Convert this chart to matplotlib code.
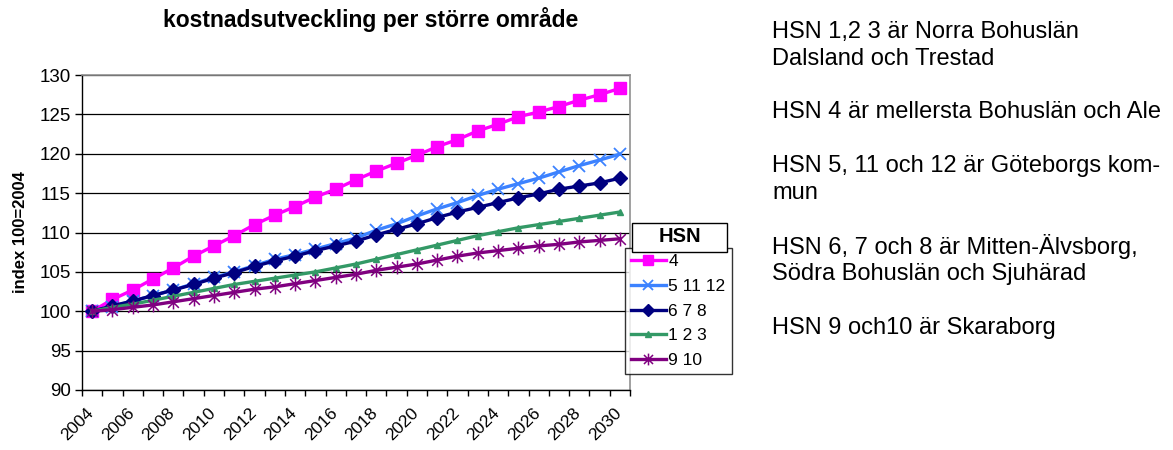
#!/usr/bin/env python3
import matplotlib
matplotlib.use("Agg")
import matplotlib.pyplot as plt
import numpy as np
from matplotlib.path import Path
from matplotlib.patches import Rectangle
from matplotlib.transforms import ScaledTranslation

plt.rcParams['font.family'] = ['Liberation Sans', 'DejaVu Sans']

# Data (index, 2004 = 100)
years = [2004, 2005, 2006, 2007, 2008, 2009, 2010, 2011, 2012, 2013, 2014,
         2015, 2016, 2017, 2018, 2019, 2020, 2021, 2022, 2023, 2024, 2025,
         2026, 2027, 2028, 2029, 2030]
hsn_4 = [100, 101.5, 102.7, 104.1, 105.5, 107.0, 108.3, 109.6, 111.0, 112.2,
         113.3, 114.5, 115.5, 116.7, 117.8, 118.8, 119.8, 120.9, 121.8, 122.9,
         123.75, 124.7, 125.3, 126.0, 126.8, 127.5, 128.3]
hsn_5_11_12 = [100, 100.6, 101.3, 102.0, 102.7, 103.5, 104.3, 105.0, 105.8,
               106.6, 107.2, 107.9, 108.6, 109.3, 110.3, 111.1, 112.1, 113.0,
               113.8, 114.7, 115.5, 116.2, 116.9, 117.7, 118.5, 119.2, 119.95]
hsn_6_7_8 = [100, 100.7, 101.3, 102.0, 102.7, 103.4, 104.2, 104.9, 105.7,
             106.4, 107.0, 107.7, 108.3, 108.9, 109.7, 110.4, 111.1, 111.9,
             112.6, 113.2, 113.8, 114.4, 114.9, 115.5, 115.9, 116.3, 116.9]
hsn_1_2_3 = [100, 100.5, 100.9, 101.4, 101.9, 102.4, 102.9, 103.4, 103.8,
             104.2, 104.6, 105.0, 105.5, 106.0, 106.6, 107.2, 107.8, 108.4,
             109.0, 109.6, 110.1, 110.6, 111.0, 111.4, 111.8, 112.2, 112.6]
hsn_9_10 = [100, 100.2, 100.5, 100.8, 101.2, 101.6, 102.0, 102.4, 102.8,
            103.1, 103.5, 103.9, 104.3, 104.7, 105.2, 105.6, 106.0, 106.5,
            107.0, 107.4, 107.7, 108.0, 108.3, 108.5, 108.8, 109.0, 109.2]
series_labels = ["4", "5 11 12", "6 7 8", "1 2 3", "9 10"]

notes = ["HSN 1,2 3 är Norra Bohuslän",
         "Dalsland och Trestad",
         "",
         "HSN 4 är mellersta Bohuslän och Ale",
         "",
         "HSN 5, 11 och 12 är Göteborgs kom-",
         "mun",
         "",
         "HSN 6, 7 och 8 är Mitten-Älvsborg,",
         "Södra Bohuslän och Sjuhärad",
         "",
         "HSN 9 och10 är Skaraborg"]

# Excel style "star" marker: x with a vertical bar
star = Path([(-1, -1), (1, 1), (-1, 1), (1, -1), (0, -1.3), (0, 1.3)],
            [Path.MOVETO, Path.LINETO, Path.MOVETO, Path.LINETO,
             Path.MOVETO, Path.LINETO])

W, H = 1173, 450
fig = plt.figure(figsize=(W / 100, H / 100), dpi=100)
ax = fig.add_axes([82 / W, 1 - 390 / H, (630 - 82) / W, (390 - 75) / H])

x = np.arange(len(years))
styles = [
    (hsn_4, "#FF00FF", "s", 8, 1),
    (hsn_5_11_12, "#3C82FF", "x", 9, 1.3),
    (hsn_6_7_8, "#000080", "D", 7, 1),
    (hsn_1_2_3, "#339966", "^", 5, 1),
    (hsn_9_10, "#800080", star, 10, 1.1),
]
for (vals, col, mk, ms, mew), lab in zip(styles, series_labels):
    ax.plot(x, vals, color=col, marker=mk, markersize=ms, markeredgewidth=mew,
            markerfacecolor=col, markeredgecolor=col, linewidth=2.4,
            label=lab, clip_on=False, zorder=3)

ax.set_xlim(-0.5, len(years) - 0.5)
ax.set_ylim(90, 130)
ax.set_yticks(np.arange(90, 131, 5))
ax.yaxis.grid(True, color="black", linewidth=0.9)
ax.set_axisbelow(True)

# tick marks on category boundaries, labels on every other year
ax.set_xticks(np.arange(-0.5, len(years), 1))
ax.set_xticklabels([])
ax.set_xticks(x[::2], minor=True)
ax.set_xticklabels([str(y) for y in years[::2]], minor=True, rotation=45,
                   ha="right", va="top", rotation_mode="anchor")
ax.tick_params(axis="x", which="major", length=4, width=1, color="black")
ax.tick_params(axis="x", which="minor", length=0, pad=11, labelsize=12.5)
ax.tick_params(axis="y", length=5, width=1, labelsize=13.5, pad=3)
shift = ScaledTranslation(-6 / 100, 0, fig.dpi_scale_trans)
for lbl in ax.get_xticklabels(minor=True):
    lbl.set_transform(lbl.get_transform() + shift)

for s in ["top", "right"]:
    ax.spines[s].set_color("#909090")
    ax.spines[s].set_linewidth(1.2)
for s in ["left", "bottom"]:
    ax.spines[s].set_color("black")
    ax.spines[s].set_linewidth(1)

ax.set_ylabel("index 100=2004", fontsize=12, fontweight="bold", labelpad=8)
fig.text(371 / W, 1 - 20 / H, "kostnadsutveckling per större område",
         ha="center", va="center", fontsize=16.5, fontweight="bold")

leg = ax.legend(loc="upper left", bbox_to_anchor=(625 / W, 1 - 248 / H),
                bbox_transform=fig.transFigure, borderaxespad=0,
                frameon=True, fancybox=False, fontsize=12.5,
                handlelength=2.0, handletextpad=0.15, labelspacing=0.55,
                borderpad=0.35, markerscale=0.85)
leg.get_frame().set_edgecolor("black")
leg.get_frame().set_linewidth(1)
leg.set_zorder(5)

# separate box for the legend title, as in the Excel chart
fig.add_artist(Rectangle((632 / W, 1 - 252 / H), 95 / W, 29 / H,
                         transform=fig.transFigure, facecolor="white",
                         edgecolor="black", linewidth=1, zorder=6))
fig.text(680 / W, 1 - 237 / H, "HSN", ha="center", va="center",
         fontsize=14.5, fontweight="bold", zorder=7)

for i, line in enumerate(notes):
    if line:
        fig.text(772 / W, 1 - (31.7 + 26.9 * i) / H, line, ha="left",
                 va="center", fontsize=17)

fig.savefig("out.png", dpi=100)
